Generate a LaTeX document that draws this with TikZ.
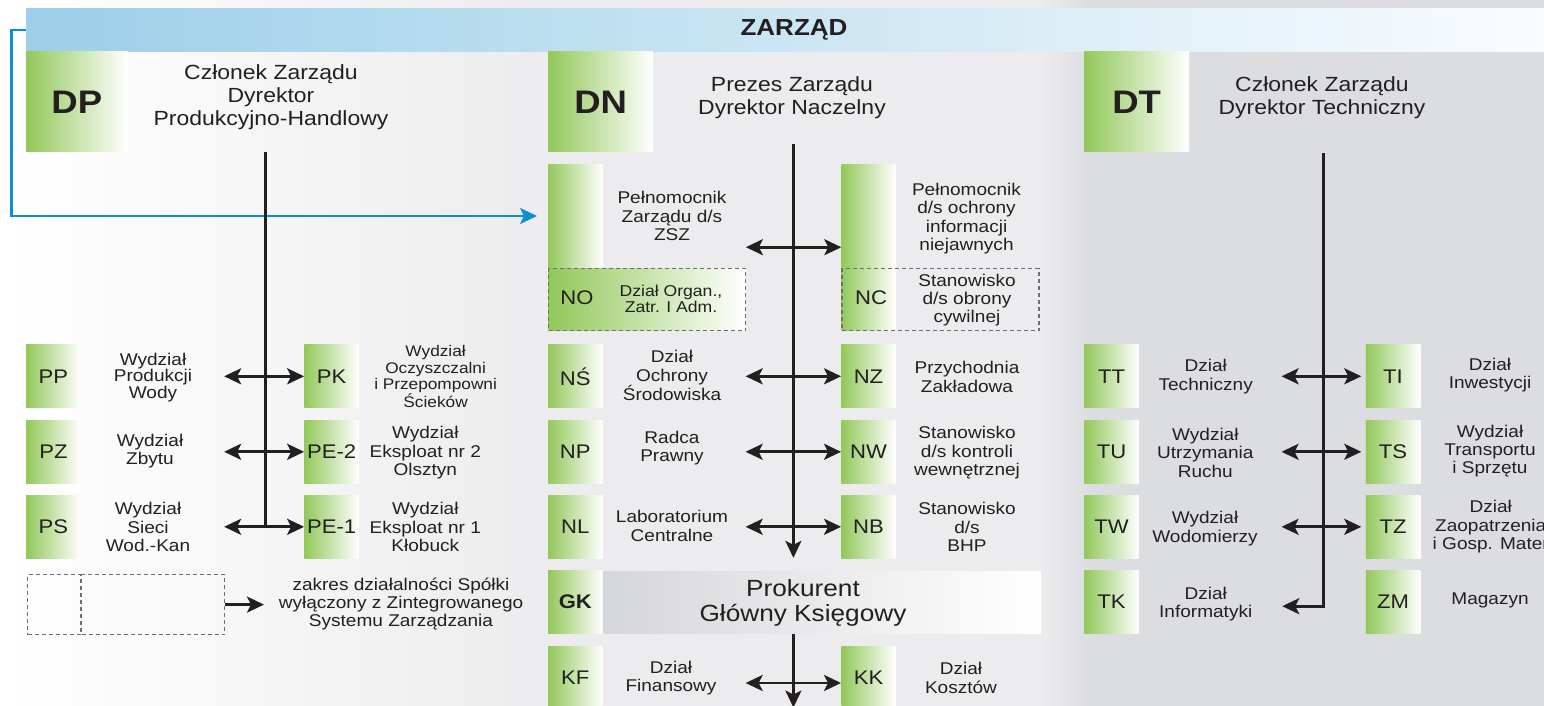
\documentclass[tikz,border=0pt]{standalone}
\usepackage{xcolor}
\usepackage{fontspec}
\usepackage{tikz}
\usetikzlibrary{arrows.meta}
\setmainfont{Liberation Sans}[FakeStretch=1.12]

\definecolor{ink}{RGB}{35,31,32}
\definecolor{leafgreen}{RGB}{146,200,90}
\definecolor{barblue}{RGB}{156,207,232}
\definecolor{barwhite}{RGB}{250,252,254}
\definecolor{linkblue}{RGB}{12,142,210}
\definecolor{panelmid}{RGB}{236,236,238}
\definecolor{panelgrey}{RGB}{220,221,224}
\definecolor{gkgrey}{RGB}{213,214,217}
\definecolor{dashgrey}{RGB}{110,110,113}

\begin{document}
\begin{tikzpicture}[x=1pt, y=-1pt,
    every node/.style={text=ink, inner sep=0pt},
    code/.style={rectangle, left color=leafgreen, right color=white, minimum width=54.5pt, minimum height=62.7pt, font=\fontsize{19.7}{20}\selectfont},
    codetext/.style={font=\fontsize{19.7}{20}\selectfont},
    head/.style={rectangle, left color=leafgreen, right color=white, minimum height=100pt, anchor=north west, font=\bfseries\fontsize{32.6}{34}\selectfont},
    title/.style={align=center, font=\fontsize{20.5}{23}\selectfont},
    unit/.style={align=center, font=\fontsize{17}{18.3}\selectfont},
    outside/.style={draw=dashgrey, line width=1.2pt, dash pattern=on 4pt off 3pt},
    link/.style={draw=ink, line width=2.8pt},
    tip/.style={-{Stealth[length=17pt, width=16pt, inset=4pt]}},
    both/.style={{Stealth[length=17pt, width=16pt, inset=4pt]}-{Stealth[length=17pt, width=16pt, inset=4pt]}}
]
    \useasboundingbox (0,0) rectangle (1544,706);
    \clip (0,0) rectangle (1544,706);

    % Background panels
    \fill[left color=white, right color=panelmid] (0,0) rectangle (541,706);
    \fill[panelmid] (540,0) rectangle (1041,706);
    \fill[left color=panelmid, right color=panelgrey] (1040,0) rectangle (1091,706);
    \fill[panelgrey] (1090,0) rectangle (1544,706);

    % Board
    \node[rectangle, left color=barblue, right color=barwhite, minimum width=1518.2pt, minimum height=43.7pt, anchor=north west] (zarzad) at (25.8,8) {};
    \node[font=\bfseries\fontsize{23.2}{24}\selectfont] (zarzadt) at (794,29.5) {ZARZĄD};
    \draw[linkblue, line width=2.2pt, -{Stealth[length=17pt, width=16pt, inset=4pt]}] (zarzad.west) -- ++(-14.4,0) |- (537,216) coordinate (zszin);

    % Directors
    \node[head, minimum width=101.6pt] (dp) at (25.8,51.7) {DP};
    \node[title] (dpt) at (271,97) {Członek Zarządu\\Dyrektor\\Produkcyjno-Handlowy};
    \node[head, minimum width=105pt] (dn) at (548,51.7) {DN};
    \node[title] (dnt) at (792,97.5) {Prezes Zarządu\\Dyrektor Naczelny};
    \node[head, minimum width=105pt] (dt) at (1084,51.7) {DT};
    \node[title] (dtt) at (1322,97.5) {Członek Zarządu\\Dyrektor Techniczny};

    % DP column
    \node[code] (pp) at (53.4,376.3) {PP};
    \node[unit, font=\fontsize{17}{15.5}\selectfont] (ppt) at (153,377.5) {Wydział\\Produkcji\\Wody};
    \node[code] (pk) at (331.6,376.3) {PK};
    \node[unit, font=\fontsize{15.4}{16.3}\selectfont] (pkt) at (435.6,376.5) {Wydział\\Oczyszczalni\\i Przepompowni\\Ścieków};
    \node[code] (pz) at (53.4,451.8) {PZ};
    \node[unit] (pzt) at (150,451) {Wydział\\Zbytu};
    \node[code] (pe2) at (331.6,451.8) {PE-2};
    \node[unit] (pe2t) at (425.3,452.7) {Wydział\\Eksploat nr 2\\Olsztyn};
    \node[code] (ps) at (53.4,526.8) {PS};
    \node[unit] (pst) at (148,527) {Wydział\\Sieci\\Wod.-Kan};
    \node[code] (pe1) at (331.6,526.8) {PE-1};
    \node[unit] (pe1t) at (425.3,527) {Wydział\\Eksploat nr 1\\Kłobuck};

    \coordinate (dpbus) at (265.2,152);
    \draw[link] (dpbus) -- (dpbus |- pe1);
    \draw[link, both] ([xshift=-80pt]pk.west) -- (pk.west);
    \draw[link, both] ([xshift=-80pt]pe2.west) -- (pe2.west);
    \draw[link, both] ([xshift=-80pt]pe1.west) -- (pe1.west);

    % Legend
    \node[outside, minimum width=53pt, minimum height=60pt, anchor=north west] (legcode) at (26.9,574) {};
    \node[outside, minimum width=143pt, minimum height=60pt, anchor=west] (legname) at (legcode.east) {};
    \draw[link, tip] (legname.east) -- ++(38.7,0);
    \node[unit] (legt) at (401,604) {zakres działalności Spółki\\wyłączony z Zintegrowanego\\Systemu Zarządzania};

    % DN column
    \node[code, minimum height=104pt, anchor=north west] (zsz) at (547.9,164) {};
    \node[unit] (zszt) at (672,216) {Pełnomocnik\\Zarządu d/s\\ZSZ};
    \node[code, minimum height=166pt, anchor=north west] (pni) at (841.3,164) {};
    \node[unit] (pnit) at (966.5,218.7) {Pełnomocnik\\d/s ochrony\\informacji\\niejawnych};
    \node[outside, left color=leafgreen, right color=white, minimum width=197pt, minimum height=62pt, anchor=north west] (no) at (547.9,268) {};
    \node[codetext] (nol) at (577,298) {NO};
    \node[unit, font=\fontsize{15.7}{16}\selectfont] (not) at (671,298.5) {Dział Organ.,\\Zatr. I Adm.};
    \node[outside, minimum width=197pt, minimum height=62pt, anchor=north west] (nc) at (841.3,268) {};
    \node[codetext] (ncl) at (871,298) {NC};
    \node[unit] (nct) at (967,300) {Stanowisko\\d/s obrony\\cywilnej};

    \node[code] (ns) at (575.3,376.3) {NŚ};
    \node[unit] (nst) at (672,375.7) {Dział\\Ochrony\\Środowiska};
    \node[code] (nz) at (868.5,376.3) {NZ};
    \node[unit] (nzt) at (967,376.8) {Przychodnia\\Zakładowa};
    \node[code] (np) at (575.3,451.8) {NP};
    \node[unit] (npt) at (672,448) {Radca\\Prawny};
    \node[code] (nw) at (868.5,451.8) {NW};
    \node[unit] (nwt) at (967,452.7) {Stanowisko\\d/s kontroli\\wewnętrznej};
    \node[code] (nl) at (575.3,526.8) {NL};
    \node[unit] (nlt) at (672,525.8) {Laboratorium\\Centralne};
    \node[code] (nb) at (868.5,526.8) {NB};
    \node[unit] (nbt) at (967,527) {Stanowisko\\d/s\\BHP};

    % Chief accountant
    \node[code, font=\bfseries\fontsize{19.7}{20}\selectfont] (gk) at (575.3,602.2) {GK};
    \node[rectangle, left color=gkgrey, right color=white, minimum width=438pt, minimum height=62.3pt, anchor=west] (gkbar) at (gk.east) {};
    \node[title, font=\fontsize{23.4}{25}\selectfont] (gkt) at (803,602.5) {Prokurent\\Główny Księgowy};
    \node[code] (kf) at (575.3,678) {KF};
    \node[unit] (kft) at (671,678) {Dział\\Finansowy};
    \node[code] (kk) at (868.5,678) {KK};
    \node[unit] (kkt) at (961,678) {Dział\\Kosztów};

    \coordinate (dnbus) at (793.4,144);
    \draw[link, tip] (dnbus) -- ([yshift=13pt]dnbus |- gkbar.north);
    \draw[link, tip] (dnbus |- gkbar.south) -- ++(0,74);
    \draw[link, both] ([xshift=-95.4pt]pni.west) -- (pni.west);
    \draw[link, both] ([xshift=-95.4pt]nz.west) -- (nz.west);
    \draw[link, both] ([xshift=-95.4pt]nw.west) -- (nw.west);
    \draw[link, both] ([xshift=-95.4pt]nb.west) -- (nb.west);
    \draw[link, both] ([xshift=-95.4pt, yshift=-5pt]kk.west) -- ([yshift=-5pt]kk.west);

    % DT column
    \node[code] (tt) at (1111.5,376.3) {TT};
    \node[unit] (ttt) at (1205.7,376.5) {Dział\\Techniczny};
    \node[code] (ti) at (1393,376.3) {TI};
    \node[unit] (tit) at (1490,375) {Dział\\Inwestycji};
    \node[code] (tu) at (1111.5,451.8) {TU};
    \node[unit] (tut) at (1205.3,452.7) {Wydział\\Utrzymania\\Ruchu};
    \node[code] (ts) at (1393,451.8) {TS};
    \node[unit] (tst) at (1490,451) {Wydział\\Transportu\\i Sprzętu};
    \node[code] (tw) at (1111.5,526.8) {TW};
    \node[unit] (twt) at (1205,528.5) {Wydział\\Wodomierzy};
    \node[code] (tz) at (1393,526.8) {TZ};
    \node[unit] (tzt) at (1490.7,526.7) {Dział\\Zaopatrzenia\\i Gosp. Mater};
    \node[code] (tk) at (1111.5,602.2) {TK};
    \node[unit] (tkt) at (1205.7,604) {Dział\\Informatyki};
    \node[code] (zm) at (1393,602.2) {ZM};
    \node[unit] (zmt) at (1490,600.7) {Magazyn};

    \coordinate (dtbus) at (1323.3,153);
    \draw[link, tip] (dtbus) |- ([xshift=143.3pt, yshift=-4pt]tk.east);
    \draw[link, both] ([xshift=-84pt]ti.west) -- ([xshift=-4.3pt]ti.west);
    \draw[link, both] ([xshift=-84pt]ts.west) -- ([xshift=-4.3pt]ts.west);
    \draw[link, both] ([xshift=-84pt]tz.west) -- ([xshift=-4.3pt]tz.west);
\end{tikzpicture}
\end{document}
